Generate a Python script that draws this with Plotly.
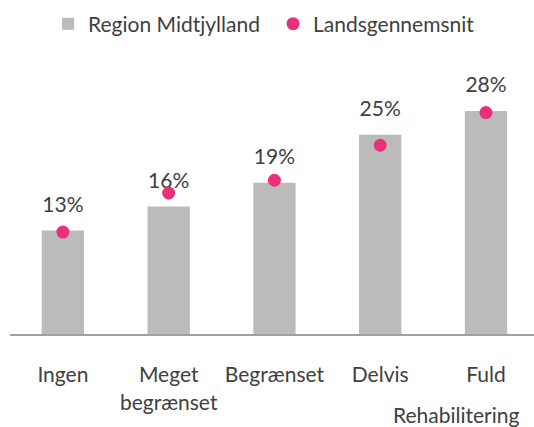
import plotly.graph_objects as go

# Rehabilitation level categories
categories = ["Ingen", "Meget<br>begrænset", "Begrænset", "Delvis", "Fuld"]
# Share (%) for Region Midtjylland
region_values = [13, 16, 19, 25, 28]
# National average (%)
national_values = [12.8, 17.7, 19.3, 23.7, 27.8]

FONT = "Lato"
TEXT_COLOR = "#404040"
BAR_COLOR = "#BBBBBB"
DOT_COLOR = "#EC2F7A"
FS = 21

fig = go.Figure()

fig.add_trace(go.Bar(
    x=categories,
    y=region_values,
    name="Region Midtjylland",
    marker=dict(color=BAR_COLOR, line=dict(width=0)),
    width=0.40,
    hoverinfo="skip",
))

# Value labels above each bar (invisible marker gives the offset)
fig.add_trace(go.Scatter(
    x=categories,
    y=region_values,
    mode="markers+text",
    text=[f"{v}%" for v in region_values],
    textposition="top center",
    textfont=dict(family=FONT, size=FS, color=TEXT_COLOR),
    marker=dict(size=20, opacity=0),
    showlegend=False,
    hoverinfo="skip",
))

fig.add_trace(go.Scatter(
    x=categories,
    y=national_values,
    mode="markers",
    name="Landsgennemsnit",
    marker=dict(color=DOT_COLOR, size=13, line=dict(width=0)),
    hoverinfo="skip",
))

fig.add_annotation(
    text="Rehabilitering",
    xref="paper", yref="paper",
    x=0.975, y=-0.295,
    xanchor="right", yanchor="middle",
    showarrow=False,
    font=dict(family=FONT, size=FS, color=TEXT_COLOR),
)

fig.update_layout(
    width=534,
    height=427,
    margin=dict(l=10, r=0, t=60, b=93),
    paper_bgcolor="white",
    plot_bgcolor="white",
    font=dict(family=FONT, size=FS, color=TEXT_COLOR),
    showlegend=True,
    legend=dict(
        orientation="h",
        x=0.09, xanchor="left",
        xref="container", yref="container",
        y=1 - 24 / 427, yanchor="middle",
        font=dict(family=FONT, size=FS, color=TEXT_COLOR),
        traceorder="normal",
        entrywidth=180,
        entrywidthmode="pixels",
        itemclick=False,
    ),
    bargap=0.6,
    xaxis=dict(
        range=[-0.5, 4.454],
        showline=True,
        linecolor="#A0A0A0",
        linewidth=2,
        showgrid=False,
        zeroline=False,
        ticks="",
        ticklabelstandoff=21,
        tickfont=dict(family=FONT, size=FS, color=TEXT_COLOR),
        fixedrange=True,
    ),
    yaxis=dict(
        range=[0, 34.4],
        visible=False,
        showgrid=False,
        zeroline=False,
        fixedrange=True,
    ),
)

fig.write_html("out.html")
